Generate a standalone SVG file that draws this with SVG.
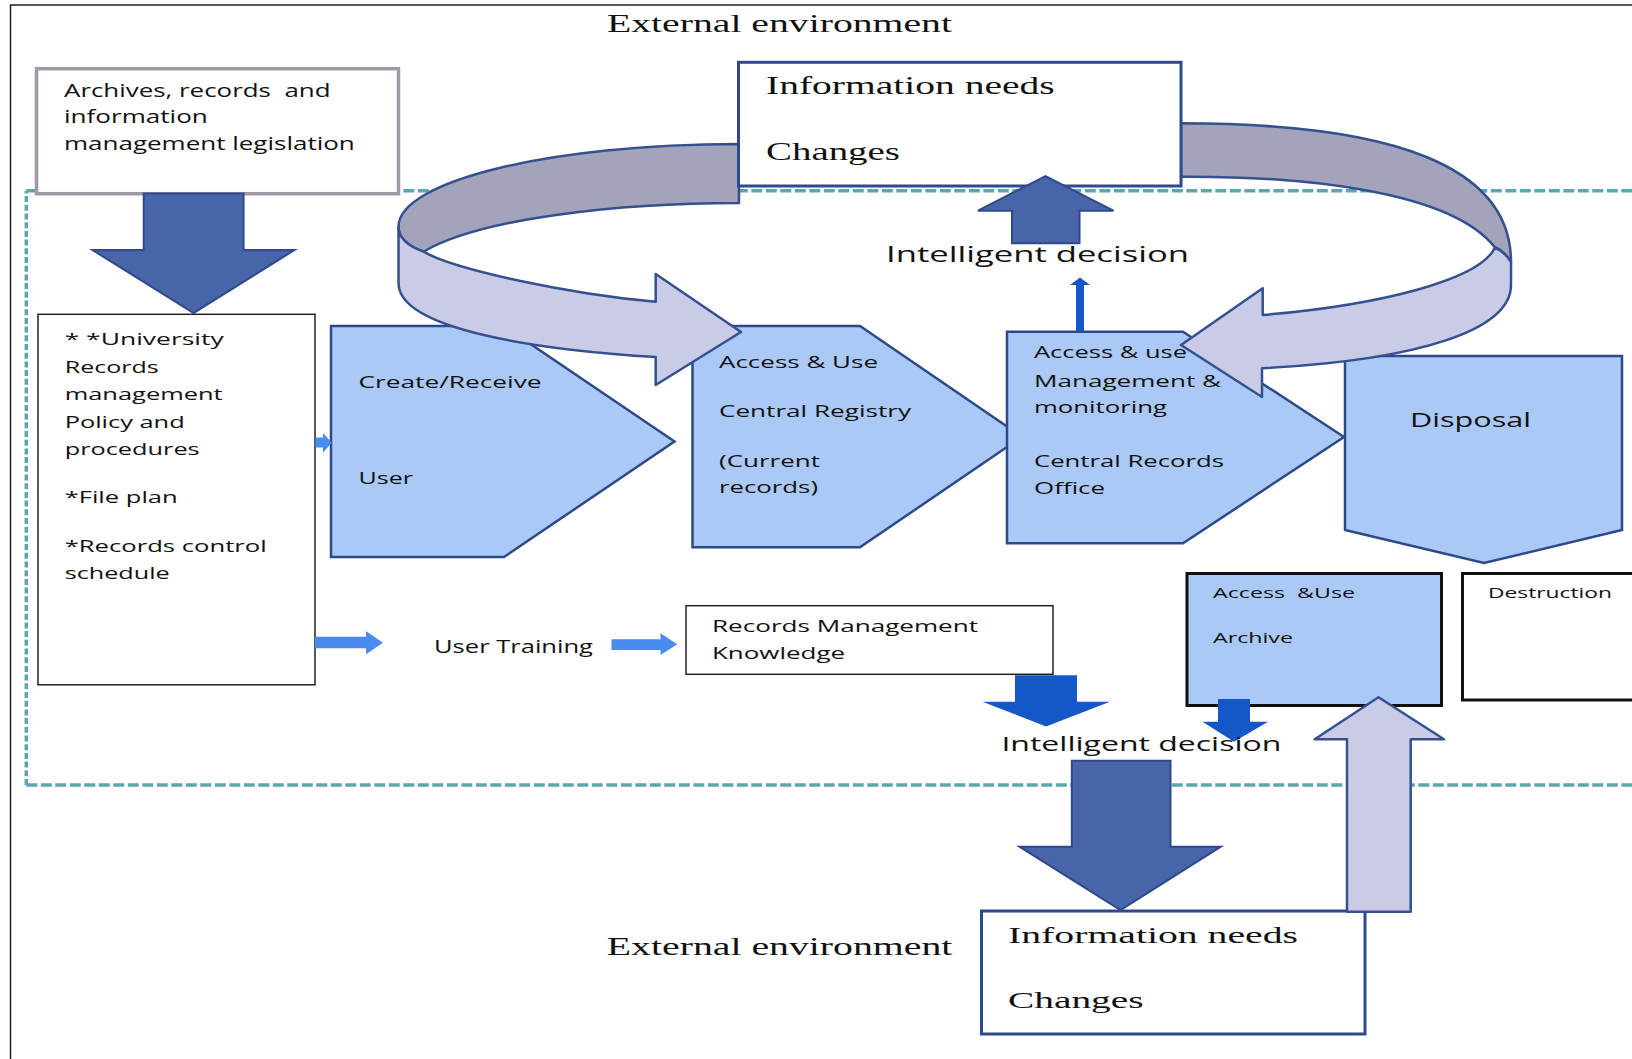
<svg xmlns="http://www.w3.org/2000/svg" width="1632" height="1059" viewBox="0 0 1632 1059">
<style>
.s{font-family:"Open Sans","Noto Sans",sans-serif;fill:#111;}
.r{font-family:"Liberation Serif","Times New Roman",serif;fill:#111;}
.pent{fill:#abc9f6;stroke:#2e4a86;stroke-width:2.5;}
.dk{fill:#4865aa;stroke:#2f4a8a;stroke-width:2;}
.br{fill:#1357c8;}
.lb{fill:#4a8cee;}
.rbd{fill:#a3a3bb;stroke:#34508f;stroke-width:2.5;stroke-linejoin:round;}
.rbl{fill:#c9cbe7;stroke:#34508f;stroke-width:2.5;stroke-linejoin:round;}
.info{fill:#fff;stroke:#2f4a8a;stroke-width:3;}
.dash{fill:none;stroke:#5ea5b0;stroke-width:3.5;}
</style>
<rect width="1632" height="1059" fill="#fff"/>
<g id="frame">
<path d="M1632,5 H10.5 V1059" fill="none" stroke="#222" stroke-width="1.5"/>
<path class="dash" d="M26.3,785 V190.7" stroke-dasharray="6 2.7"/>
<path class="dash" d="M26.3,190.7 H1640 M26.3,785 H1640" stroke-dasharray="11 3.5"/>
</g>
<g id="ribbon-back">
<path class="rbd" d="M739,144 C551,144 398.5,181 398.5,226.7 C398.5,238 408,246 423.6,251.7 C480,218 620,203 739,203 Z"/>
<path class="rbd" d="M1181,123.3 C1395.5,123.3 1511,166.5 1511,262 Q1505,252 1495,247.5 C1450,190 1300,176 1181,176.7 Z"/>
</g>
<g id="node-legislation">
<rect x="36.5" y="68.7" width="362" height="125" fill="#fff" stroke="#a097a8" stroke-width="3.5"/>
<text class="s" font-size="17.5" x="64" y="96.7" textLength="266.5" lengthAdjust="spacingAndGlyphs" xml:space="preserve">Archives, records  and</text>
<text class="s" font-size="17.5" x="64" y="123.3" textLength="143.8" lengthAdjust="spacingAndGlyphs">information</text>
<text class="s" font-size="17.5" x="64" y="150" textLength="290.8" lengthAdjust="spacingAndGlyphs">management legislation</text>
</g>
<g id="node-info-top">
<rect class="info" x="738.5" y="62.3" width="442.5" height="123.7"/>
<text class="r" font-size="25" x="766" y="94" textLength="288.7" lengthAdjust="spacingAndGlyphs">Information needs</text>
<text class="r" font-size="25" x="766" y="160" textLength="134" lengthAdjust="spacingAndGlyphs">Changes</text>
</g>
<g id="node-policy">
<rect x="38" y="314.3" width="277" height="370.5" fill="#fff" stroke="#222" stroke-width="1.5"/>
<text class="s" font-size="17" x="64.7" y="345" textLength="159" lengthAdjust="spacingAndGlyphs">* *University</text>
<text class="s" font-size="17" x="64.7" y="373" textLength="94" lengthAdjust="spacingAndGlyphs">Records</text>
<text class="s" font-size="17" x="64.7" y="400" textLength="158" lengthAdjust="spacingAndGlyphs">management</text>
<text class="s" font-size="17" x="64.7" y="428" textLength="120" lengthAdjust="spacingAndGlyphs">Policy and</text>
<text class="s" font-size="17" x="64.7" y="455" textLength="135" lengthAdjust="spacingAndGlyphs">procedures</text>
<text class="s" font-size="17" x="64.7" y="503" textLength="113" lengthAdjust="spacingAndGlyphs">*File plan</text>
<text class="s" font-size="17" x="64.7" y="552" textLength="202" lengthAdjust="spacingAndGlyphs">*Records control</text>
<text class="s" font-size="17" x="64.7" y="579" textLength="105" lengthAdjust="spacingAndGlyphs">schedule</text>
</g>
<g id="node-create">
<polygon class="pent" points="331,326 504,326 674.5,441.5 504,557 331,557"/>
<text class="s" font-size="17" x="358.5" y="388" textLength="183" lengthAdjust="spacingAndGlyphs">Create/Receive</text>
<text class="s" font-size="17" x="358.5" y="484" textLength="54.5" lengthAdjust="spacingAndGlyphs">User</text>
</g>
<g id="node-registry">
<polygon class="pent" points="692.5,326 860,326 1022,436.7 860,547.3 692.5,547.3"/>
<text class="s" font-size="16.5" x="719" y="368.3" textLength="159" lengthAdjust="spacingAndGlyphs">Access &amp; Use</text>
<text class="s" font-size="16.5" x="719" y="416.7" textLength="192" lengthAdjust="spacingAndGlyphs">Central Registry</text>
<text class="s" font-size="16.5" x="719" y="466.7" textLength="101" lengthAdjust="spacingAndGlyphs">(Current</text>
<text class="s" font-size="16.5" x="719" y="492.7" textLength="99" lengthAdjust="spacingAndGlyphs">records)</text>
</g>
<g id="node-records-office">
<polygon class="pent" points="1007,331.7 1183,331.7 1344,437 1183,543.3 1007,543.3"/>
<text class="s" font-size="16.5" x="1034" y="358.3" textLength="153" lengthAdjust="spacingAndGlyphs">Access &amp; use</text>
<text class="s" font-size="16.5" x="1034" y="386.7" textLength="187" lengthAdjust="spacingAndGlyphs">Management &amp;</text>
<text class="s" font-size="16.5" x="1034" y="413.3" textLength="133" lengthAdjust="spacingAndGlyphs">monitoring</text>
<text class="s" font-size="16.5" x="1034" y="466.7" textLength="190" lengthAdjust="spacingAndGlyphs">Central Records</text>
<text class="s" font-size="16.5" x="1034" y="494.3" textLength="71" lengthAdjust="spacingAndGlyphs">Office</text>
</g>
<g id="node-disposal">
<polygon class="pent" points="1345,356 1622,356 1622,530 1484,563 1345,530"/>
<text class="s" font-size="20.5" x="1410" y="426.7" textLength="121" lengthAdjust="spacingAndGlyphs">Disposal</text>
</g>
<g id="node-rm-knowledge">
<rect x="686" y="605.7" width="367" height="68.6" fill="#fff" stroke="#222" stroke-width="1.5"/>
<text class="s" font-size="17" x="712" y="632.3" textLength="266" lengthAdjust="spacingAndGlyphs">Records Management</text>
<text class="s" font-size="17" x="712" y="658.5" textLength="133" lengthAdjust="spacingAndGlyphs">Knowledge</text>
</g>
<g id="node-archive">
<rect x="1187" y="573.5" width="254.5" height="132" fill="#abc9f6" stroke="#111" stroke-width="3"/>
<text class="s" font-size="15" x="1213" y="597.5" textLength="142" lengthAdjust="spacingAndGlyphs" xml:space="preserve">Access  &amp;Use</text>
<text class="s" font-size="15" x="1213" y="643.3" textLength="80" lengthAdjust="spacingAndGlyphs">Archive</text>
</g>
<g id="node-destruction">
<rect x="1462.5" y="573.5" width="190" height="126.5" fill="#fff" stroke="#111" stroke-width="3"/>
<text class="s" font-size="15" x="1488" y="597.5" textLength="124" lengthAdjust="spacingAndGlyphs">Destruction</text>
</g>
<g id="node-info-bottom">
<rect class="info" x="981.5" y="911" width="383.5" height="123"/>
<text class="r" font-size="24" x="1008" y="942.7" textLength="290" lengthAdjust="spacingAndGlyphs">Information needs</text>
<text class="r" font-size="24" x="1008" y="1008.3" textLength="135.6" lengthAdjust="spacingAndGlyphs">Changes</text>
</g>
<g id="connectors">
<path class="rbl" d="M398.5,226.7 C398.5,238 408,246 423.6,251.7 C455,270 570,294 655.7,301.8 L655.7,274 L741,332 L655.7,385 L655.7,357 C540,350 398.5,330 398.5,283 Z"/>
<path class="rbl" d="M1495,247.5 C1480,280 1380,305 1262.7,315 L1262.7,288.3 L1181,345 L1262,397 L1262,368.3 C1420,360 1511,330 1511,285 L1511,262 Q1505,252 1495,247.5 Z"/>
<polygon class="dk" points="143.7,193.6 243.6,193.6 243.6,250 294.5,250 193.6,313 92.5,250 143.7,250"/>
<polygon class="dk" points="1012,243.3 1012,210.7 978,210.7 1045.5,176 1113.5,210.7 1079.5,210.7 1079.5,243.3"/>
<polygon class="br" points="1076,331 1076,285 1070,285 1080,277.5 1090,285 1084,285 1084,331"/>
<polygon class="lb" points="315.5,437.5 323,437.5 323,432.7 331.7,442.7 323,452.7 323,447.5 315.5,447.5"/>
<polygon class="lb" points="315,636.7 366,636.7 366,631 383,642.7 366,654.3 366,648.3 315,648.3"/>
<polygon class="lb" points="611.5,639.3 660.5,639.3 660.5,633.3 677.3,644.2 660.5,655 660.5,650 611.5,650"/>
<polygon class="br" points="1015,675.3 1077,675.3 1077,701.7 1110,701.7 1046,726.5 982.5,701.7 1015,701.7"/>
<polygon class="br" points="1218,699 1250,699 1250,721.7 1268,721.7 1234,741.7 1202.5,721.7 1218,721.7"/>
<polygon class="dk" points="1071.8,760.7 1170.5,760.7 1170.5,846.7 1220.8,846.7 1120.5,910 1019.5,846.7 1071.8,846.7"/>
<polygon class="rbl" points="1347,911.7 1410.7,911.7 1410.7,739.3 1444,739.3 1378.5,697.3 1314.7,739.3 1347,739.3"/>
</g>
<g id="labels">
<text class="r" font-size="26" x="607" y="31.5" textLength="345" lengthAdjust="spacingAndGlyphs">External environment</text>
<text class="s" font-size="22" x="886" y="261.7" textLength="303" lengthAdjust="spacingAndGlyphs">Intelligent decision</text>
<text class="s" font-size="17.5" x="434" y="652.7" textLength="159" lengthAdjust="spacingAndGlyphs">User Training</text>
<text class="s" font-size="20" x="1001.4" y="750.7" textLength="280" lengthAdjust="spacingAndGlyphs">Intelligent decision</text>
<text class="r" font-size="25" x="606.8" y="955" textLength="345.6" lengthAdjust="spacingAndGlyphs">External environment</text>
</g>
</svg>
